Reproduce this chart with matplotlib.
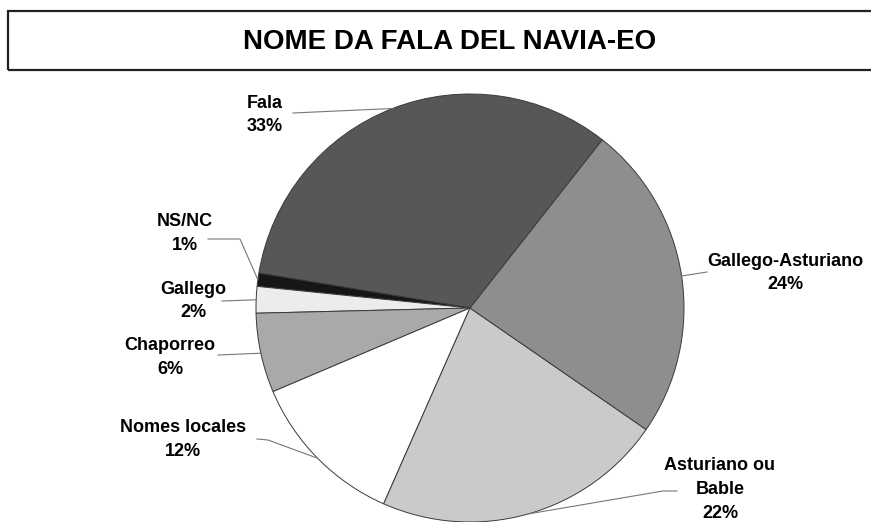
import numpy as np
import matplotlib.pyplot as plt
from matplotlib.patches import Rectangle

plt.rcParams['font.family'] = ['Liberation Sans', 'DejaVu Sans']

title = 'NOME DA FALA DEL NAVIA-EO'
labels = ['Fala', 'NS/NC', 'Gallego', 'Chaporreo', 'Nomes locales',
          'Asturiano ou\nBable', 'Gallego-Asturiano']
values = [33, 1, 2, 6, 12, 22, 24]
colors = ['#575757', '#161616', '#ececec', '#a9a9a9', '#ffffff',
          '#cacaca', '#8e8e8e']

# top line of each label (x centre, y from top) and leader elbows in pixels
label_xy = [(265, 103), (185, 222), (193, 289), (170, 346), (183, 428),
            (720, 466), (785, 261)]
leader_pts = [[(293, 113)], [(208, 239), (240, 239)], [(222, 301)],
              [(218, 355)], [(257, 439), (268, 440)],
              [(677, 491), (663, 491)], [(707, 272)]]

W, H = 871, 522
cx, cy, r = 470, 308, 214
start = 51.8
pitch = 23.5


def main():
    fig = plt.figure(figsize=(W / 100, H / 100), dpi=100)
    ax = fig.add_axes([0, 0, 1, 1])

    wedges, _ = ax.pie(values, colors=colors, startangle=start,
                       counterclock=True, center=(cx, H - cy), radius=r,
                       wedgeprops=dict(edgecolor='#3a3a3a', linewidth=0.7))
    ax.set_xlim(0, W)
    ax.set_ylim(0, H)
    ax.set_aspect('equal')
    ax.axis('off')

    for w, lab, v, (tx, ty), pts in zip(wedges, labels, values,
                                        label_xy, leader_pts):
        mid = np.deg2rad((w.theta1 + w.theta2) / 2)
        ex = cx + r * np.cos(mid)
        ey = (H - cy) + r * np.sin(mid)
        xs = [p[0] for p in pts] + [ex]
        ys = [H - p[1] for p in pts] + [ey]
        ax.plot(xs, ys, color='#777777', lw=0.8)

        lines = lab.split('\n')
        for i, line in enumerate(lines):
            ax.text(tx, H - ty - i * pitch, line, ha='center',
                    va='center', fontsize=13, fontweight='bold')
        ax.text(tx, H - ty - len(lines) * pitch, '%d%%' % v, ha='center',
                va='center', fontsize=13, fontweight='bold')

    ax.add_patch(Rectangle((8, H - 70), 900, 59, fill=False,
                           edgecolor='#222222', lw=1.6, clip_on=True))
    ax.text(450, H - 42, title, ha='center', va='center',
            fontsize=20, fontweight='bold')

    fig.savefig('out.png', dpi=100)


if __name__ == '__main__':
    main()
